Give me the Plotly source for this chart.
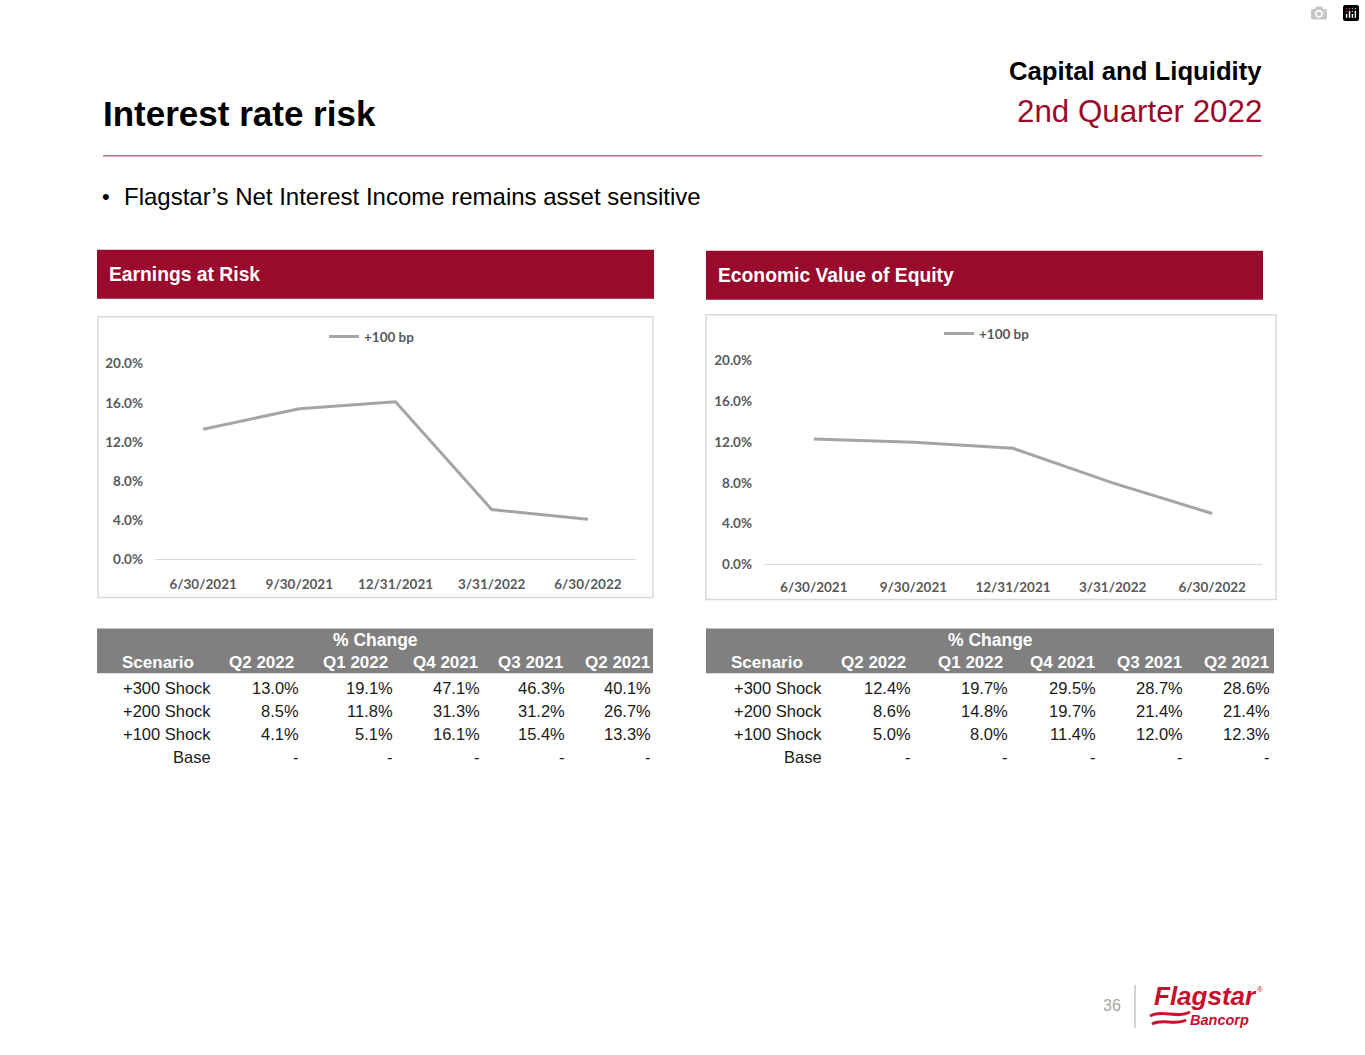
import plotly.graph_objects as go

W, H = 1365, 1055
# the page shows the figure canvas 1040px tall, starting 7px below the top
CANVAS_TOP, CANVAS_H = 7, 1040


def X(px):
    return px / W


def Y(py):
    return 1 - (py - CANVAS_TOP) / CANVAS_H


# ---------------- data ----------------
chart_dates = ["6/30/2021", "9/30/2021", "12/31/2021", "3/31/2022", "6/30/2022"]
quarters = ["Q2 2022", "Q1 2022", "Q4 2021", "Q3 2021", "Q2 2021"]
scenarios = ["+300 Shock", "+200 Shock", "+100 Shock", "Base"]

ear_300 = [13.0, 19.1, 47.1, 46.3, 40.1]
ear_200 = [8.5, 11.8, 31.3, 31.2, 26.7]
ear_100 = [4.1, 5.1, 16.1, 15.4, 13.3]

eve_300 = [12.4, 19.7, 29.5, 28.7, 28.6]
eve_200 = [8.6, 14.8, 19.7, 21.4, 21.4]
eve_100 = [5.0, 8.0, 11.4, 12.0, 12.3]

base_row = ["-", "-", "-", "-", "-"]
y_ticks = [0, 4, 8, 12, 16, 20]
y_tick_text = ["0.0%", "4.0%", "8.0%", "12.0%", "16.0%", "20.0%"]

# chart lines are the +100 shock in chronological order
ear_line = list(reversed(ear_100))
eve_line = list(reversed(eve_100))

# ---------------- styles ----------------
CRIMSON = "#990A2C"
LINE_GREY = "#A5A5A5"
TICK_GREY = "#595959"
HDR_GREY = "#808080"
BOX_GREY = "#D9D9D9"
TXT = "#1A1A1A"
SANS = "Liberation Sans, Arial, sans-serif"
CHART_FONT = "Lato, Carlito, sans-serif"

fig = go.Figure()

fig.add_trace(go.Scatter(
    x=chart_dates, y=ear_line, mode="lines", name="<b>+100 bp</b>",
    line=dict(color=LINE_GREY, width=3), xaxis="x", yaxis="y",
    legend="legend", showlegend=True, hoverinfo="skip"))
fig.add_trace(go.Scatter(
    x=chart_dates, y=eve_line, mode="lines", name="<b>+100 bp</b>",
    line=dict(color=LINE_GREY, width=3), xaxis="x2", yaxis="y2",
    legend="legend2", showlegend=True, hoverinfo="skip"))

tickfont = dict(family=CHART_FONT, size=13.5, color=TICK_GREY)


def xaxis_cfg(x0, x1, anchor, standoff):
    return dict(domain=[X(x0), X(x1)], anchor=anchor, type="category",
                range=[-0.5, 4.5], showline=True, linecolor=BOX_GREY,
                linewidth=1, showgrid=False, zeroline=False, ticks="",
                tickmode="array", tickvals=chart_dates,
                ticktext=["<b>" + d + "</b>" for d in chart_dates],
                tickfont=tickfont, ticklabelstandoff=standoff, fixedrange=True)


def yaxis_cfg(y0, y1, anchor):
    return dict(domain=[Y(y0), Y(y1)], anchor=anchor, range=[0, 20],
                tickmode="array", tickvals=y_ticks,
                ticktext=["<b>" + t + "</b>" for t in y_tick_text],
                showgrid=False, showline=False, zeroline=False, ticks="",
                tickfont=tickfont, ticklabelstandoff=11, fixedrange=True)


legend_font = dict(family=CHART_FONT, size=13.5, color=TICK_GREY)

fig.update_layout(
    width=W, height=H, autosize=False,
    margin=dict(l=0, r=0, t=0, b=0),
    paper_bgcolor="white", plot_bgcolor="rgba(0,0,0,0)",
    hovermode=False, showlegend=True,
    xaxis=xaxis_cfg(155, 636, "y", 12),
    yaxis=yaxis_cfg(559, 363, "x"),
    xaxis2=xaxis_cfg(764, 1262, "y2", 10),
    yaxis2=yaxis_cfg(564, 360, "x2"),
    legend=dict(x=X(324), y=Y(336), xanchor="left", yanchor="middle",
                bgcolor="rgba(0,0,0,0)", font=legend_font, borderwidth=0, visible=True),
    legend2=dict(x=X(939), y=Y(333), xanchor="left", yanchor="middle",
                 bgcolor="rgba(0,0,0,0)", font=legend_font, borderwidth=0, visible=True),
)

shapes = []
ann = []


def rect(x0, y0, x1, y1, fill=None, line=None, lw=1, layer="below"):
    shapes.append(dict(type="rect", xref="paper", yref="paper",
                       x0=X(x0), x1=X(x1), y0=Y(y1), y1=Y(y0),
                       fillcolor=fill if fill else "rgba(0,0,0,0)",
                       line=dict(color=line if line else "rgba(0,0,0,0)", width=lw if line else 0),
                       layer=layer))


def text(x, y, s, size, color=TXT, family=SANS, xanchor="left", bold=False, italic=False):
    t = s
    if bold:
        t = "<b>" + t + "</b>"
    if italic:
        t = "<i>" + t + "</i>"
    # annotations pad their text by ~2px; compensate so the text edge sits on x
    dx = {"left": -2, "right": 2, "center": 0}[xanchor]
    ann.append(dict(xref="paper", yref="paper", x=X(x + dx), y=Y(y), text=t,
                    showarrow=False, xanchor=xanchor, yanchor="middle",
                    font=dict(size=size, color=color, family=family)))


# ---- slide header ----
text(103, 113, "Interest rate risk", 35, color="#000000", bold=True)
text(1262, 70, "Capital and Liquidity", 25.7, color="#000000", xanchor="right", bold=True)
text(1262, 111, "2nd Quarter 2022", 31.3, color=CRIMSON, xanchor="right")
shapes.append(dict(type="line", xref="paper", yref="paper", x0=X(103), x1=X(1262),
                   y0=Y(155), y1=Y(155), line=dict(color="#A3294D", width=1)))
text(102, 196, "•", 22, color="#000000")
text(124, 196, "Flagstar’s Net Interest Income remains asset sensitive", 24, color="#000000")

# ---- section headers ----
rect(97, 249, 654, 298, fill=CRIMSON)
text(109, 274, "Earnings at Risk", 19.3, color="white", bold=True)
rect(706, 250, 1263, 299, fill=CRIMSON)
text(718, 275, "Economic Value of Equity", 19.3, color="white", bold=True)

# ---- chart boxes ----
rect(98, 316, 653, 597, line=BOX_GREY, lw=1.5)
rect(706, 314, 1276, 599, line=BOX_GREY, lw=1.5)

# ---- tables ----
row_y = [688, 711, 734, 757]


def draw_table(x0, x1, scen_hdr_x, scen_right, hdr_rights, val_rights, s300, s200, s100):
    rect(x0, 628, x1, 673, fill=HDR_GREY)
    text((x0 + x1) / 2, 640, "% Change", 17.5, color="white", xanchor="center", bold=True)
    text(scen_hdr_x, 662, "Scenario", 17, color="white", bold=True)
    for q, xr in zip(quarters, hdr_rights):
        text(xr, 662, q, 17, color="white", xanchor="right", bold=True)
    rows = [
        [f"{v:.1f}%" for v in s300],
        [f"{v:.1f}%" for v in s200],
        [f"{v:.1f}%" for v in s100],
        base_row,
    ]
    for r, (sc, vals) in enumerate(zip(scenarios, rows)):
        text(scen_right, row_y[r], sc, 16.5, xanchor="right")
        for v, xr in zip(vals, val_rights):
            text(xr, row_y[r], v, 16.5, xanchor="right")


draw_table(97, 653, 122, 211, [294, 388, 478, 563, 650], [299, 393, 480, 565, 651],
           ear_300, ear_200, ear_100)
draw_table(706, 1274, 731, 822, [906, 1003, 1095, 1182, 1269], [911, 1008, 1096, 1183, 1270],
           eve_300, eve_200, eve_100)

# ---- footer: page number + logo ----
text(1121, 1005, "36", 16, color="#A6A6A6", xanchor="right")
shapes.append(dict(type="line", xref="paper", yref="paper", x0=X(1135), x1=X(1135),
                   y0=Y(985), y1=Y(1028), line=dict(color="#A6A6A6", width=1)))
LOGO_RED = "#C8102E"
text(1154, 996, "Flagstar", 26, color=LOGO_RED, bold=True, italic=True)
text(1257, 989, "®", 8, color=LOGO_RED)
text(1190, 1020, "Bancorp", 14.5, color=LOGO_RED, bold=True, italic=True)


def wave(xa, ya, xb, yb, amp):
    xm1 = xa + (xb - xa) * 0.33
    xm2 = xa + (xb - xa) * 0.66
    return (f"M {X(xa)},{Y(ya)} C {X(xm1)},{Y(ya - amp)} {X(xm2)},{Y(yb + amp)} {X(xb)},{Y(yb)}")


shapes.append(dict(type="path", xref="paper", yref="paper", path=wave(1150, 1016, 1190, 1012, 7),
                   line=dict(color=LOGO_RED, width=3)))
shapes.append(dict(type="path", xref="paper", yref="paper", path=wave(1152, 1024, 1186, 1020, 6),
                   line=dict(color=LOGO_RED, width=3)))

fig.update_layout(shapes=shapes, annotations=ann)

fig.write_html("out.html", post_script="document.body.style.margin='0';")
